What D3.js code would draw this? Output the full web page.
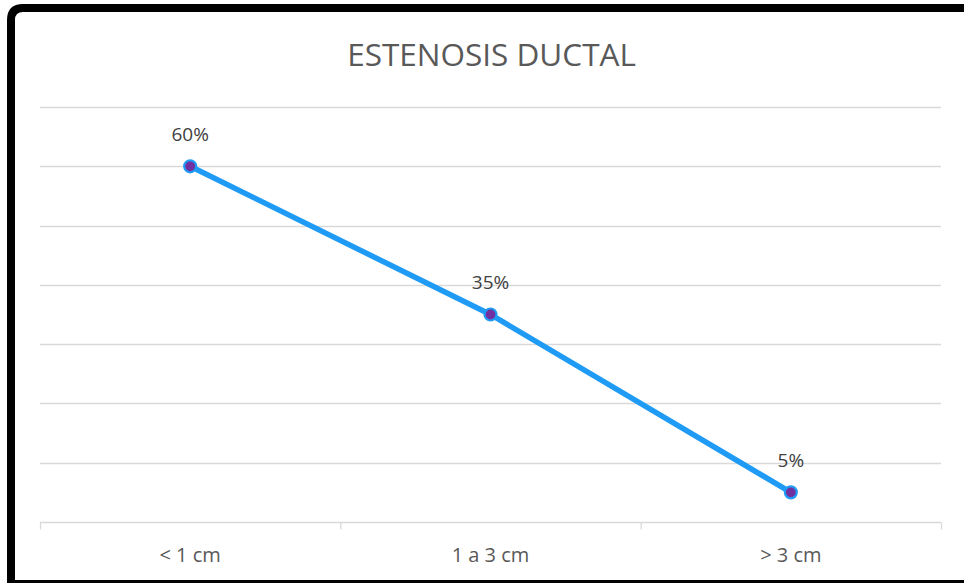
<!DOCTYPE html>
<html>
<head>
<meta charset="utf-8">
<script src="https://cdn.jsdelivr.net/npm/d3@7"></script>
<style>
  html, body { margin: 0; padding: 0; background: #fff; }
  svg { display: block; }
</style>
</head>
<body>
<svg id="chart" width="964" height="583"></svg>
<script>
// Stenosis length categories and share of cases
const categories = ["< 1 cm", "1 a 3 cm", "> 3 cm"];
const values = [60, 35, 5];
const valueLabels = ["60%", "35%", "5%"];
const yTicks = [0, 10, 20, 30, 40, 50, 60, 70];
const title = "ESTENOSIS DUCTAL";

const svg = d3.select("#chart");
const W = 964, H = 583;
const font = "'Open Sans', 'Liberation Sans', sans-serif";

// Frame: heavy left/top edge with rounded corner, thin bottom edge
svg.append("path")
  .attr("d", `M11,${H} L11,20 Q11,8 23,8 L${W},8`)
  .attr("fill", "none").attr("stroke", "#000").attr("stroke-width", 8);
svg.append("line")
  .attr("x1", 7).attr("x2", W).attr("y1", 581.5).attr("y2", 581.5)
  .attr("stroke", "#000").attr("stroke-width", 3);

const plot = { left: 40, right: 941, top: 107, bottom: 522 };

const x = d3.scaleBand().domain(categories).range([plot.left, plot.right]);
const y = d3.scaleLinear().domain([0, 70]).range([plot.bottom, plot.top]);

// Horizontal gridlines
svg.append("g").selectAll("line")
  .data(yTicks.filter(d => d > 0))
  .join("line")
  .attr("x1", plot.left).attr("x2", plot.right)
  .attr("y1", d => Math.round(y(d)) + 0.5).attr("y2", d => Math.round(y(d)) + 0.5)
  .attr("stroke", "#d9d9d9").attr("stroke-width", 1.3);

// Category axis with tick marks between categories
const xAxis = svg.append("g")
  .attr("transform", `translate(0,${plot.bottom + 0.5})`);
xAxis.append("line")
  .attr("x1", plot.left).attr("x2", plot.right)
  .attr("stroke", "#d9d9d9").attr("stroke-width", 1.3);
const bounds = categories.map(c => x(c)).concat([plot.right]);
xAxis.selectAll("line.tick")
  .data(bounds)
  .join("line").attr("class", "tick")
  .attr("x1", d => d + 0.5).attr("x2", d => d + 0.5)
  .attr("y1", 0).attr("y2", 7)
  .attr("stroke", "#d9d9d9").attr("stroke-width", 1.3);
xAxis.selectAll("text")
  .data(categories)
  .join("text")
  .attr("x", d => x(d) + x.bandwidth() / 2)
  .attr("y", 39.5)
  .attr("text-anchor", "middle")
  .attr("font-family", font).attr("font-size", 20)
  .attr("fill", "#595959")
  .text(d => d);

// Title
svg.append("text")
  .attr("x", 491.5).attr("y", 66)
  .attr("text-anchor", "middle")
  .attr("font-family", font).attr("font-size", 31.5)
  .attr("fill", "#595959")
  .text(title);

// Series line
const pts = categories.map((c, i) => ({ c, v: values[i], label: valueLabels[i] }));
const cx = d => x(d.c) + x.bandwidth() / 2;

svg.append("path")
  .datum(pts)
  .attr("d", d3.line().x(cx).y(d => y(d.v)))
  .attr("fill", "none")
  .attr("stroke", "#1f9bf5")
  .attr("stroke-width", 5.5)
  .attr("stroke-linejoin", "round");

// Markers
svg.append("g").selectAll("circle")
  .data(pts)
  .join("circle")
  .attr("cx", cx).attr("cy", d => y(d.v))
  .attr("r", 6)
  .attr("fill", "#7030a0")
  .attr("stroke", "#1f9bf5").attr("stroke-width", 2.2);

// Data labels
svg.append("g").selectAll("text")
  .data(pts)
  .join("text")
  .attr("x", cx).attr("y", d => y(d.v) - 25.5)
  .attr("text-anchor", "middle")
  .attr("font-family", font).attr("font-size", 19)
  .attr("fill", "#404040")
  .text(d => d.label);
</script>
</body>
</html>
